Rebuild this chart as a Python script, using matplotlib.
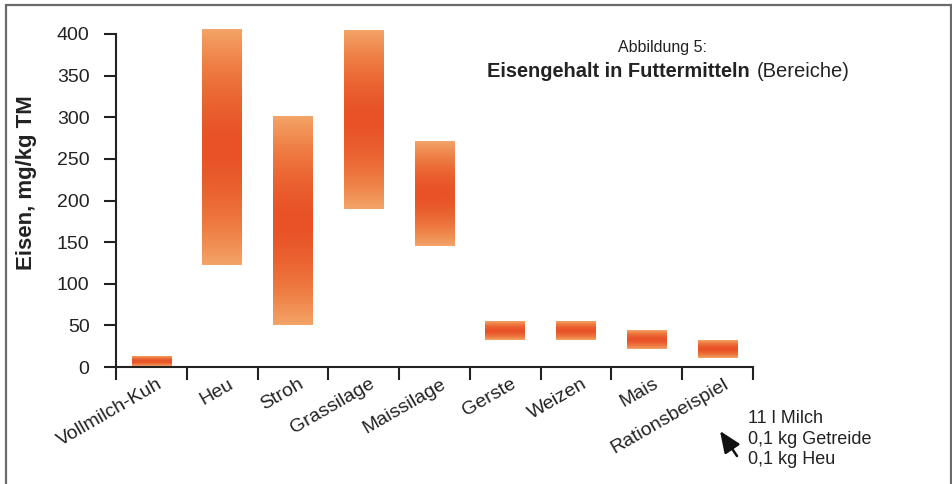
import numpy as np
import matplotlib
matplotlib.use("Agg")
import matplotlib.pyplot as plt
import matplotlib.transforms as mtransforms
from matplotlib.colors import LinearSegmentedColormap
from matplotlib.patches import Rectangle

plt.rcParams["font.family"] = ["Liberation Sans", "DejaVu Sans"]

# ranges of iron content (mg/kg TM)
categories = ["Vollmilch-Kuh", "Heu", "Stroh", "Grassilage", "Maissilage",
              "Gerste", "Weizen", "Mais", "Rationsbeispiel"]
low = [1, 122, 50, 190, 145, 33, 33, 22, 11]
high = [12, 405, 300, 405, 270, 55, 55, 44, 32]
yticks = [0, 50, 100, 150, 200, 250, 300, 350, 400]
note_lines = ["11 l Milch", "0,1 kg Getreide", "0,1 kg Heu"]

W, H = 953, 484
fig = plt.figure(figsize=(W / 100, H / 100), dpi=100)
ax = fig.add_axes([116 / W, 1 - 367 / H, (753 - 116) / W, (367 - 34) / H])

cmap = LinearSegmentedColormap.from_list("eisen", ["#F3A468", "#EE7A40", "#E85226"])

x = np.arange(len(categories))
heights = [h - l for l, h in zip(low, high)]
bars = ax.bar(x, heights, bottom=low, width=0.56, color="none",
              edgecolor="none", clip_on=False)

# vertical gradient inside each bar: darker in the middle
t = np.linspace(0, 1, 200)
profile = 1 - np.abs(2 * t - 1) ** 1.6
grad = profile[:, None]
for b in bars:
    x0, y0 = b.get_x(), b.get_y()
    ax.imshow(grad, extent=[x0, x0 + b.get_width(), y0, y0 + b.get_height()],
              origin="lower", aspect="auto", cmap=cmap, vmin=0, vmax=1,
              interpolation="bilinear", clip_on=False, zorder=2)

ax.set_xlim(-0.5, len(categories) - 0.5)
ax.set_ylim(0, 400)

for s in ["top", "right"]:
    ax.spines[s].set_visible(False)
for s in ["left", "bottom"]:
    ax.spines[s].set_linewidth(1.5)
    ax.spines[s].set_color("#222222")

ax.set_yticks(yticks)
ax.tick_params(axis="y", length=9, width=1.5, pad=10, labelsize=14,
               colors="#222222")

# tick marks at category boundaries, labels at centers
ax.set_xticks(np.arange(len(categories) + 1) - 0.5, minor=True)
ax.set_xticks(x)
ax.set_xticklabels(categories, rotation=30, ha="right", rotation_mode="anchor",
                   fontsize=14, color="#222222")
ax.tick_params(axis="x", which="major", length=0, pad=6)
ax.tick_params(axis="x", which="minor", length=9, width=1.5, colors="#222222")
offset = mtransforms.ScaledTranslation(4 / 72, 0, fig.dpi_scale_trans)
for lab in ax.get_xticklabels():
    lab.set_transform(lab.get_transform() + offset)

fig.text(27 / W, 1 - 183 / H, "Eisen, mg/kg TM", rotation=90, ha="center",
         va="center", fontsize=16, fontweight="bold", color="#222222")

fig.text(663 / W, 1 - 52 / H, "Abbildung 5:", ha="center", va="baseline",
         fontsize=11.5, color="#222222")
fig.text(750 / W, 1 - 77 / H, "Eisengehalt in Futtermitteln", ha="right",
         va="baseline", fontsize=14.4, fontweight="bold", color="#222222")
fig.text(757 / W, 1 - 77 / H, "(Bereiche)", ha="left", va="baseline",
         fontsize=14.5, color="#222222")

fig.text(748 / W, 1 - 410 / H, "\n".join(note_lines), ha="left", va="top",
         fontsize=13, linespacing=1.28, color="#222222")
ax.annotate("", xy=(720 / W, 1 - 431 / H), xycoords="figure fraction",
            xytext=(737 / W, 1 - 456 / H), textcoords="figure fraction",
            arrowprops=dict(arrowstyle="-|>,head_length=1.3,head_width=0.55",
                            color="#111111", lw=1.8, shrinkA=0, shrinkB=0))

fig.add_artist(Rectangle((6 / W, -0.05), (951 - 6) / W, 1.05 - 5 / H,
                         transform=fig.transFigure, fill=False,
                         edgecolor="#6a6a6a", lw=1.6))

fig.savefig("out.png", dpi=100)
